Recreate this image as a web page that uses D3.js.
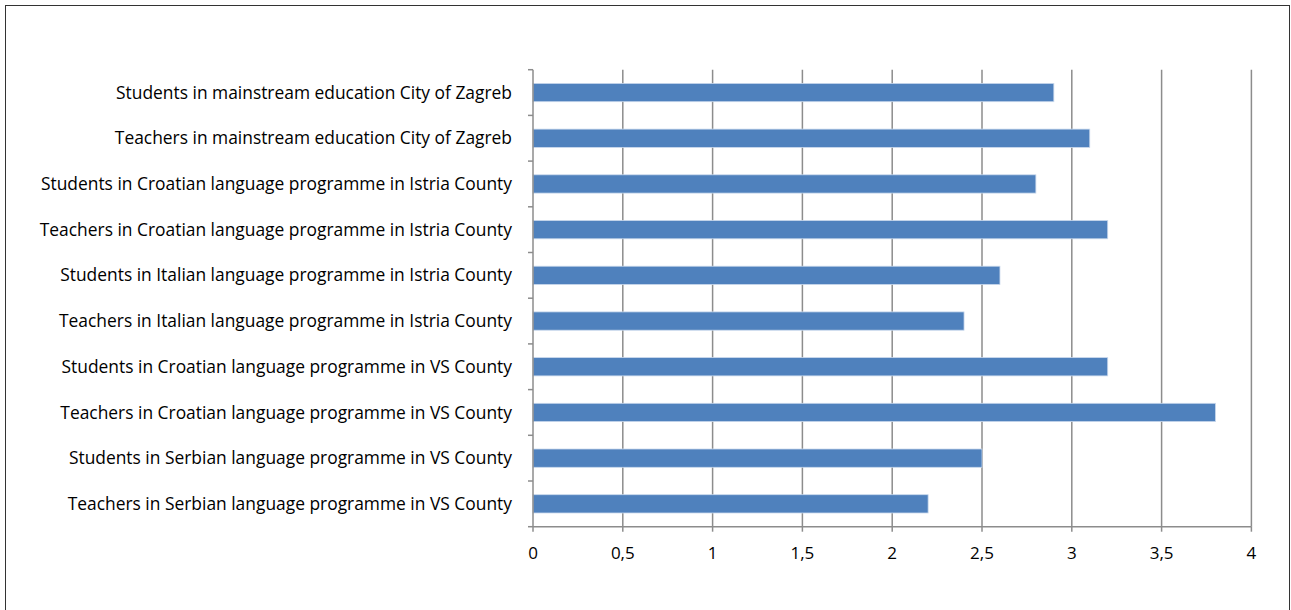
<!DOCTYPE html>
<html><head><meta charset="utf-8">
<script src="https://cdn.jsdelivr.net/npm/d3@7"></script>
<style>body{margin:0;background:#fff}svg{display:block}text{font-family:"Open Sans",Lato,sans-serif;fill:#000}</style>
</head><body><svg id="c" width="1291" height="610"></svg>
<script>
const categories = [
  "Students in mainstream education City of Zagreb",
  "Teachers in mainstream education City of Zagreb",
  "Students in Croatian language programme in Istria County",
  "Teachers in Croatian language programme in Istria County",
  "Students in Italian language programme in Istria County",
  "Teachers in Italian language programme in Istria County",
  "Students in Croatian language programme in VS County",
  "Teachers in Croatian language programme in VS County",
  "Students in Serbian language programme in VS County",
  "Teachers in Serbian language programme in VS County"
];
const values = [2.9, 3.1, 2.8, 3.2, 2.6, 2.4, 3.2, 3.8, 2.5, 2.2];
const xTicks = [0, 0.5, 1, 1.5, 2, 2.5, 3, 3.5, 4];
const xTickLabels = ["0", "0,5", "1", "1,5", "2", "2,5", "3", "3,5", "4"];

const svg = d3.select("#c");
svg.append("rect").attr("x",5.5).attr("y",5.5).attr("width",1284).attr("height",620)
  .attr("fill","none").attr("stroke","#333").attr("stroke-width",1);

const m = {l:533, t:69.7, r:1251.4, b:526.7};
const x = d3.scaleLinear().domain([0,4]).range([m.l, m.r]);
const y = d3.scaleBand().domain(categories).range([m.t, m.b]).paddingInner(0.6).paddingOuter(0.3);

const grid = "#8c8c8c";
svg.append("g").selectAll("line").data(xTicks.slice(1)).join("line")
  .attr("x1",d=>x(d)).attr("x2",d=>x(d)).attr("y1",m.t).attr("y2",m.b)
  .attr("stroke",grid).attr("stroke-width",1.5);

svg.append("g").selectAll("rect").data(values).join("rect")
  .attr("x",x(0)).attr("y",(d,i)=>y(categories[i]))
  .attr("width",d=>x(d)-x(0)).attr("height",y.bandwidth())
  .attr("fill","#4f81bd").attr("stroke","#c9d8ec").attr("stroke-width",0.8);

const step = (m.b - m.t)/categories.length;
const yb = svg.append("g");
yb.append("line").attr("x1",m.l).attr("x2",m.l).attr("y1",m.t).attr("y2",m.b).attr("stroke",grid).attr("stroke-width",1.5);
yb.selectAll("line.t").data(d3.range(categories.length+1)).join("line").attr("class","t")
  .attr("x1",m.l-5).attr("x2",m.l).attr("y1",i=>m.t+i*step).attr("y2",i=>m.t+i*step)
  .attr("stroke",grid).attr("stroke-width",1.5);
yb.selectAll("text").data(categories).join("text")
  .attr("x",m.l-21).attr("y",d=>y(d)+y.bandwidth()/2).attr("dy","0.35em")
  .attr("text-anchor","end").attr("font-size",17.4).text(d=>d);

const xa = svg.append("g");
xa.append("line").attr("x1",m.l).attr("x2",m.r).attr("y1",m.b).attr("y2",m.b).attr("stroke",grid).attr("stroke-width",1.5);
xa.selectAll("line.t").data(xTicks).join("line").attr("class","t")
  .attr("x1",d=>x(d)).attr("x2",d=>x(d)).attr("y1",m.b).attr("y2",m.b+5)
  .attr("stroke",grid).attr("stroke-width",1.5);
xa.selectAll("text").data(xTicks).join("text")
  .attr("x",d=>x(d)).attr("y",553).attr("dy","0.35em").attr("text-anchor","middle")
  .attr("font-size",17).text((d,i)=>xTickLabels[i]);
</script></body></html>
